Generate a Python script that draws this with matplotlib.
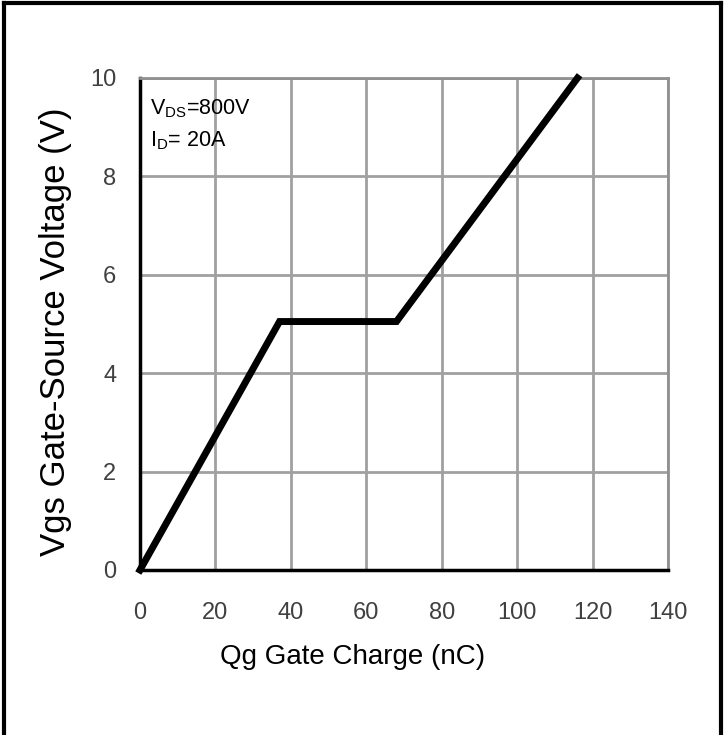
import matplotlib
matplotlib.use("Agg")
import matplotlib.pyplot as plt
from matplotlib.lines import Line2D

plt.rcParams['font.family'] = ['Liberation Sans', 'DejaVu Sans']
plt.rcParams['mathtext.fontset'] = 'custom'
plt.rcParams['mathtext.rm'] = 'Liberation Sans'
plt.rcParams['mathtext.it'] = 'Liberation Sans'

qg = [0, 37, 68, 116]
vgs = [0, 5.05, 5.05, 10]
x_ticks = [0, 20, 40, 60, 80, 100, 120, 140]
y_ticks = [0, 2, 4, 6, 8, 10]

W, H = 726, 735
fig = plt.figure(figsize=(W / 100, H / 100), dpi=100)
ax = fig.add_axes([140 / W, 1 - 570 / H, 528 / W, 492 / H])

ax.plot(qg, vgs, color='black', lw=5, solid_joinstyle='miter', zorder=3, clip_on=False)
ax.set_xlim(0, 140)
ax.set_ylim(0, 10)
ax.set_xticks(x_ticks)
ax.set_yticks(y_ticks)
ax.grid(True, color='#a0a0a0', lw=2)
for s in ['top', 'right']:
    ax.spines[s].set_color('#909090')
    ax.spines[s].set_linewidth(2)
for s in ['left', 'bottom']:
    ax.spines[s].set_color('black')
    ax.spines[s].set_linewidth(2.5)
ax.tick_params(length=0, labelsize=17, labelcolor='#404040')
ax.tick_params(axis='x', pad=23)
ax.tick_params(axis='y', pad=17)

ax.set_xlabel('Qg Gate Charge (nC)', fontsize=20, color='black')
ax.xaxis.set_label_coords((353 - 140) / 528, -(657 - 570) / 492)
ax.xaxis.label.set_va('center')
ax.set_ylabel('Vgs Gate-Source Voltage (V)', fontsize=25, color='black')
ax.yaxis.set_label_coords((56 - 140) / 528, (570 - 332) / 492)
ax.yaxis.label.set_va('center')

ax.text(0.018, 0.96, r'V$_{\mathrm{DS}}$=800V', transform=ax.transAxes, fontsize=15.5,
        va='top', ha='left')
ax.text(0.018, 0.895, r'I$_{\mathrm{D}}$= 20A', transform=ax.transAxes, fontsize=15.5,
        va='top', ha='left')

# outer border
lw = 3
fig.add_artist(Line2D([4 / W, 721 / W], [1 - 3 / H, 1 - 3 / H], transform=fig.transFigure, color='black', lw=lw))
fig.add_artist(Line2D([4 / W, 4 / W], [0, 1 - 3 / H], transform=fig.transFigure, color='black', lw=lw))
fig.add_artist(Line2D([721 / W, 721 / W], [0, 1 - 3 / H], transform=fig.transFigure, color='black', lw=lw))

fig.savefig('out.png', dpi=100)
